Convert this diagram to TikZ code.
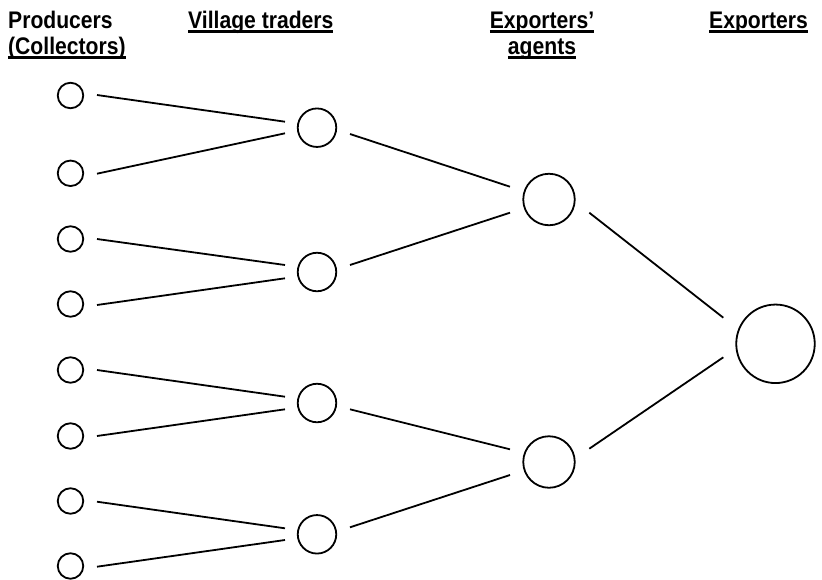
\documentclass[tikz,border=0pt]{standalone}
\usepackage{fontspec}
\setmainfont{Liberation Sans}
\usetikzlibrary{calc}
\newcommand\ulx[1]{\setbox0\hbox{#1}\rlap{\vrule width\wd0 height -2.4pt depth 4.6pt}\box0}
\newcommand\narrowtext[1]{\scalebox{0.88}[1]{#1}}
\tikzset{
  lbl/.style={inner sep=0pt, font=\fontsize{24}{28}\selectfont\bfseries},
  circ/.style={circle, draw, line width=1.8pt, inner sep=0pt},
  prod/.style={circ, minimum size=25.5pt},
  trad/.style={circ, minimum size=38.5pt},
  agent/.style={circ, minimum size=51.5pt},
  expo/.style={circ, minimum size=78.5pt},
  link/.style={line width=1.8pt}
}
\begin{document}
\begin{tikzpicture}[x=1pt,y=-1pt]
\useasboundingbox (0,0) rectangle (822,579);
% labels
\node[lbl, anchor=base west] (hprod) at (8,28) {\narrowtext{Producers}};
\node[lbl, anchor=base west] (hcoll) at (8,54) {\narrowtext{\ulx{(Collectors)}}};
\node[lbl, anchor=base west] (hvill) at (188,28) {\narrowtext{\ulx{Village traders}}};
\node[lbl, anchor=base] (hexa1) at (542,28) {\narrowtext{\ulx{Exporters’}}};
\node[lbl, anchor=base] (hexa2) at (542,54) {\narrowtext{\ulx{agents}}};
\node[lbl, anchor=base west] (hexp) at (709,28) {\narrowtext{\ulx{Exporters}}};
% producers
\node[prod] (p1) at (70.5,95.5) {};
\node[prod] (p2) at (70.5,173.3) {};
\node[prod] (p3) at (70.5,239) {};
\node[prod] (p4) at (70.5,304) {};
\node[prod] (p5) at (70.5,370) {};
\node[prod] (p6) at (70.5,436) {};
\node[prod] (p7) at (70.5,501) {};
\node[prod] (p8) at (70.5,566) {};
% village traders
\node[trad] (t1) at (317,127.7) {};
\node[trad] (t2) at (317,272) {};
\node[trad] (t3) at (317,403) {};
\node[trad] (t4) at (317,534.3) {};
% exporters' agents
\node[agent] (a1) at (549,199.5) {};
\node[agent] (a2) at (549,462) {};
% exporter
\node[expo] (e1) at (775.5,343.8) {};
% producer -> trader links
\draw[link] ($(p1)+(26.5,-0.5)$) -- ($(t1)+(-32,-6)$);
\draw[link] ($(p2)+(26.5,0.4)$) -- ($(t1)+(-32,5.6)$);
\draw[link] ($(p3)+(26.5,0)$) -- ($(t2)+(-32,-7)$);
\draw[link] ($(p4)+(26.5,1)$) -- ($(t2)+(-32,6.3)$);
\draw[link] ($(p5)+(26.5,0)$) -- ($(t3)+(-32,-6.3)$);
\draw[link] ($(p6)+(26.5,0)$) -- ($(t3)+(-32,6.3)$);
\draw[link] ($(p7)+(26.5,0.7)$) -- ($(t4)+(-32,-6)$);
\draw[link] ($(p8)+(26.5,0.7)$) -- ($(t4)+(-32,5.7)$);
% trader -> agent links
\draw[link] ($(t1)+(33,6.3)$) -- ($(a1)+(-39,-12.8)$);
\draw[link] ($(t2)+(33,-7)$) -- ($(a1)+(-39,13.2)$);
\draw[link] ($(t3)+(33,6.3)$) -- ($(a2)+(-39,-12.7)$);
\draw[link] ($(t4)+(33,-7)$) -- ($(a2)+(-39,13)$);
% agent -> exporter links
\draw[link] ($(a1)+(40.3,13.2)$) -- ($(e1)+(-52.2,-26.1)$);
\draw[link] ($(a2)+(40.3,-13.3)$) -- ($(e1)+(-52.2,13.5)$);
\end{tikzpicture}
\end{document}
